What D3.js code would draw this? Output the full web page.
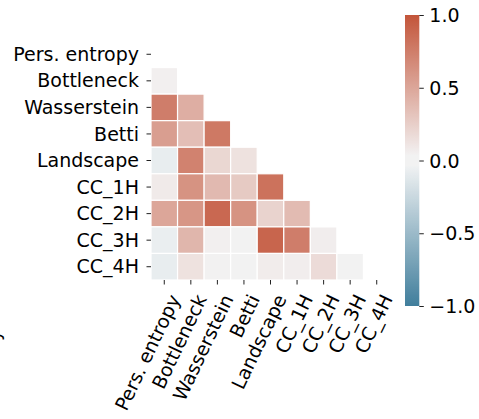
<!DOCTYPE html>
<html>
<head>
<meta charset="utf-8">
<script src="https://cdn.jsdelivr.net/npm/d3@7"></script>
<style>
  html, body { margin: 0; padding: 0; background: #fff; }
  svg { display: block; }
  text { font-family: "DejaVu Sans", sans-serif; }
</style>
</head>
<body>
<svg id="chart" width="479" height="419"></svg>
<script>
// Feature names (rows and columns of the correlation matrix)
const features = ["Pers. entropy", "Bottleneck", "Wasserstein", "Betti", "Landscape",
                  "CC_1H", "CC_2H", "CC_3H", "CC_4H"];

// Lower triangle of the correlation matrix, one array per row (diagonal excluded)
const rowPersEntropy = [];
const rowBottleneck  = [0.05];
const rowWasserstein = [0.75, 0.45];
const rowBetti       = [0.55, 0.35, 0.78];
const rowLandscape   = [-0.08, 0.72, 0.20, 0.13];
const rowCC1H        = [0.08, 0.62, 0.38, 0.28, 0.82];
const rowCC2H        = [0.50, 0.60, 0.88, 0.62, 0.22, 0.37];
const rowCC3H        = [-0.07, 0.40, 0.05, 0.03, 0.90, 0.75, 0.06];
const rowCC4H        = [-0.08, 0.13, 0.04, 0.02, 0.07, 0.06, 0.17, -0.02];
const lowerRows = [rowPersEntropy, rowBottleneck, rowWasserstein, rowBetti, rowLandscape,
                   rowCC1H, rowCC2H, rowCC3H, rowCC4H];

// Colour bar ticks
const cbarTicks = [-1.0, -0.5, 0.0, 0.5, 1.0];

// ---- HUSL -> sRGB conversion (for a diverging palette built in HUSL space)
const M = [[3.2406, -1.5372, -0.4986], [-0.9689, 1.8758, 0.0415], [0.0557, -0.2040, 1.0570]];
const refU = 0.19784, refV = 0.46834, labE = 0.008856, labK = 903.3;
function maxChroma(L, H) {
  const hr = H * Math.PI / 180, sinH = Math.sin(hr), cosH = Math.cos(hr);
  const sub1 = Math.pow(L + 16, 3) / 1560896, sub2 = sub1 > labE ? sub1 : L / labK;
  let res = Infinity;
  for (const [m1, m2, m3] of M) {
    const top = (0.99915 * m1 + 1.05122 * m2 + 1.14460 * m3) * sub2;
    const rb = 0.86330 * m3 - 0.17266 * m2;
    const lb = 0.12949 * m3 - 0.38848 * m1;
    const bottom = (rb * sinH + lb * cosH) * sub2;
    for (const t of [0, 1]) {
      const C = L * (top - 1.05122 * t) / (bottom + 0.17266 * sinH * t);
      if (C > 0 && C < res) res = C;
    }
  }
  return res;
}
function husl(H, S, L) {
  const C = maxChroma(L, H) / 100 * S;
  const hr = H * Math.PI / 180;
  const U = Math.cos(hr) * C, V = Math.sin(hr) * C;
  const fInv = t => Math.pow(t, 3) > labE ? Math.pow(t, 3) : (116 * t - 16) / labK;
  const Y = fInv((L + 16) / 116);
  const vu = U / (13 * L) + refU, vv = V / (13 * L) + refV;
  const X = 0 - (9 * Y * vu) / ((vu - 4) * vv - vu * vv);
  const Z = (9 * Y - 15 * vv * Y - vv * X) / (3 * vv);
  const rgb = M.map(r => {
    let c = r[0] * X + r[1] * Y + r[2] * Z;
    c = c <= 0.0031308 ? 12.92 * c : 1.055 * Math.pow(c, 1 / 2.4) - 0.055;
    return Math.round(255 * Math.max(0, Math.min(1, c)));
  });
  return d3.rgb(rgb[0], rgb[1], rgb[2]).toString();
}

// Diverging palette: blue (h=230) -> light centre -> red (h=20)
const neg = husl(230, 75, 50), negLight = husl(230, 11.25, 95);
const pos = husl(20, 75, 50), posLight = husl(20, 11.25, 95);
const mid = d3.rgb(242, 242, 242).toString();
const k = v => -1 + 2 * v / 255;
const color = d3.scaleLinear()
  .domain([-1, k(122), k(123), k(132), k(133), 1])
  .range([neg, negLight, mid, mid, posLight, pos])
  .interpolate(d3.interpolateRgb)
  .clamp(true);

// ---- Layout
const svg = d3.select("#chart");
const hm = { left: 151, right: 390, top: 41, bottom: 280 };
const x = d3.scaleBand().domain(features).range([hm.left, hm.right]);
const y = d3.scaleBand().domain(features).range([hm.top, hm.bottom]);

// Cells
const cells = [];
lowerRows.forEach((row, i) => row.forEach((v, j) => cells.push({ r: features[i], c: features[j], v })));
svg.append("g").selectAll("rect").data(cells).join("rect")
  .attr("x", d => x(d.c))
  .attr("y", d => y(d.r))
  .attr("width", x.bandwidth())
  .attr("height", y.bandwidth())
  .attr("fill", d => color(d.v))
  .attr("stroke", "#fff")
  .attr("stroke-width", 1.2);

const fontSize = 19;

// Y axis
const yAxis = svg.append("g")
  .attr("transform", `translate(${hm.left},0)`)
  .call(d3.axisLeft(y).tickSize(4.5).tickPadding(7.5).tickSizeOuter(0));
yAxis.select(".domain").remove();
yAxis.selectAll(".tick line").attr("stroke", "#222").attr("stroke-width", 1);
yAxis.selectAll(".tick text")
  .attr("font-size", fontSize).attr("font-family", "DejaVu Sans")
  .attr("fill", "#000").attr("dy", "0.35em");

// X axis with rotated labels
const xAxis = svg.append("g")
  .attr("transform", `translate(0,${hm.bottom})`)
  .call(d3.axisBottom(x).tickSize(4.5).tickSizeOuter(0));
xAxis.select(".domain").remove();
xAxis.selectAll(".tick line").attr("stroke", "#222").attr("stroke-width", 1);
xAxis.selectAll(".tick text")
  .attr("font-size", fontSize).attr("font-family", "DejaVu Sans").attr("fill", "#000")
  .attr("text-anchor", "end")
  .attr("x", 0).attr("y", 0)
  .attr("dy", "0.93em")
  .attr("transform", "translate(0.5,11) rotate(-64.5)");

// Colour bar
const cb = { left: 405, width: 14.3, top: 15, bottom: 306 };
const cbScale = d3.scaleLinear().domain([-1, 1]).range([cb.bottom, cb.top]);
const grad = svg.append("defs").append("linearGradient")
  .attr("id", "cbar").attr("x1", 0).attr("y1", 1).attr("x2", 0).attr("y2", 0);
grad.selectAll("stop").data(d3.range(0, 256)).join("stop")
  .attr("offset", i => i / 255)
  .attr("stop-color", i => color(-1 + 2 * i / 255));
svg.append("rect")
  .attr("x", cb.left).attr("y", cb.top)
  .attr("width", cb.width).attr("height", cb.bottom - cb.top)
  .attr("fill", "url(#cbar)");
const cAxis = svg.append("g")
  .attr("transform", `translate(${cb.left + cb.width},0)`)
  .call(d3.axisRight(cbScale).tickValues(cbarTicks).tickSize(4.5).tickPadding(5.5)
    .tickFormat(v => d3.format(".1f")(v).replace("-", "\u2212")));
cAxis.select(".domain").remove();
cAxis.selectAll(".tick line").attr("stroke", "#222").attr("stroke-width", 1);
cAxis.selectAll(".tick text")
  .attr("font-size", fontSize).attr("font-family", "DejaVu Sans")
  .attr("fill", "#000").attr("dy", "0.35em");

// Edge of a rotated side label, mostly outside the figure
svg.append("text")
  .attr("font-size", fontSize).attr("font-family", "DejaVu Sans").attr("fill", "#000")
  .attr("text-anchor", "start")
  .attr("transform", "translate(-0.5,341) rotate(-90)")
  .text("y");
</script>
</body>
</html>
